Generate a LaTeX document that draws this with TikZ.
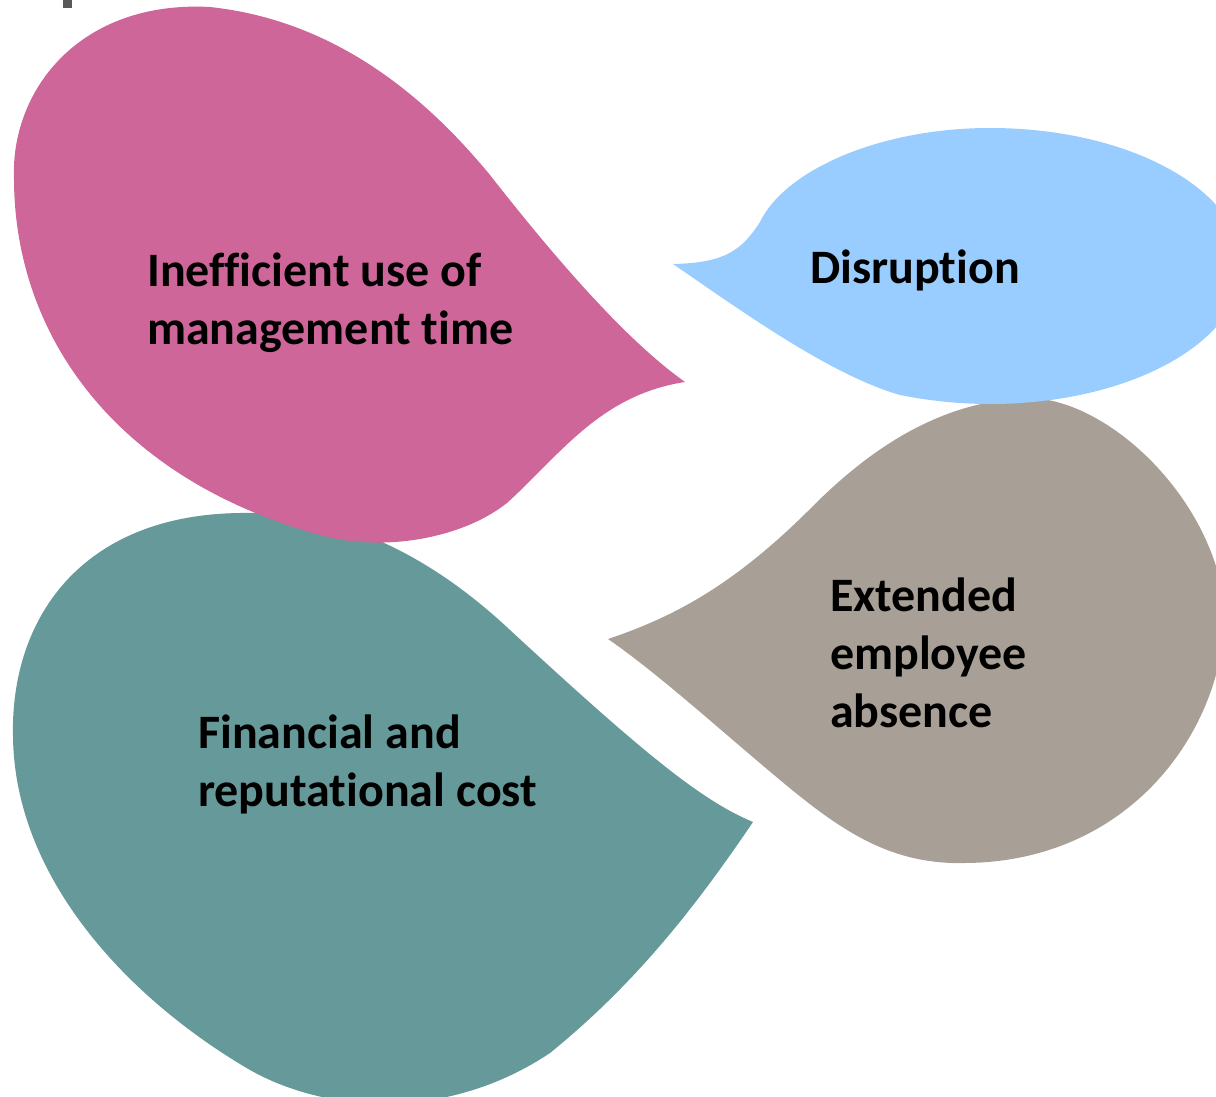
\documentclass[tikz,border=0pt]{standalone}
\usepackage{fontspec}
\setmainfont{Carlito}[Ligatures=NoCommon]
\definecolor{pinkfill}{HTML}{CF6699}
\definecolor{bluefill}{HTML}{99CCFF}
\definecolor{greyfill}{HTML}{A8A096}
\definecolor{tealfill}{HTML}{669999}
\definecolor{markgrey}{HTML}{595959}
\tikzset{
  bubbletext/.style={inner sep=0pt, anchor=base west, align=left, text=black,
    font=\fontsize{48}{58}\selectfont\bfseries}
}
\begin{document}
\begin{tikzpicture}[x=1pt,y=-1pt]
\useasboundingbox (0,0) rectangle (1216,1097);
\clip (0,0) rectangle (1216,1097);
% title fragment at top
\fill[markgrey] (63,0) rectangle (72,8);
% teal bubble
\fill[tealfill] (753,822) .. controls (700,800) and (640,750) .. (510,630)
  .. controls (430,555) and (340,510) .. (240,513)
  .. controls (80,515) and (10,620) .. (13,737)
  .. controls (15,880) and (130,1000) .. (250,1070)
  .. controls (330,1115) and (450,1120) .. (550,1053)
  .. controls (640,980) and (700,900) .. (753,822) -- cycle;
% pink bubble
\fill[pinkfill] (685,382) .. controls (640,350) and (580,290) .. (490,175)
  .. controls (420,90) and (330,20) .. (210,7)
  .. controls (80,0) and (10,90) .. (14,180)
  .. controls (15,340) and (120,480) .. (320,535)
  .. controls (380,552) and (460,540) .. (507,503)
  .. controls (560,455) and (600,395) .. (685,382) -- cycle;
% grey bubble
\fill[greyfill] (608,639) .. controls (680,615) and (740,580) .. (816,503)
  .. controls (870,450) and (940,400) .. (1030,398)
  .. controls (1110,400) and (1215,500) .. (1225,610)
  .. controls (1225,730) and (1130,862) .. (965,863)
  .. controls (890,865) and (840,830) .. (780,780)
  .. controls (720,730) and (660,675) .. (608,639) -- cycle;
% blue bubble
\fill[bluefill] (673,264) .. controls (725,263) and (742,250) .. (760,222)
  .. controls (785,170) and (880,128) .. (990,128)
  .. controls (1129.2,128) and (1242,189.8) .. (1242,266)
  .. controls (1242,342.2) and (1129.2,404) .. (990,404)
  .. controls (960,404) and (930,401) .. (900,395)
  .. controls (830,375) and (740,310) .. (673,264) -- cycle;
% texts (anchor = baseline of the last line)
\node[bubbletext] (tpink) at (147,344) {Inefficient use of\\management time};
\node[bubbletext] (tblue) at (810,283) {Disruption};
\node[bubbletext] (tgrey) at (830,727) {Extended\\employee\\absence};
\node[bubbletext] (tteal) at (198,806) {Financial and\\reputational cost};
\end{tikzpicture}
\end{document}
